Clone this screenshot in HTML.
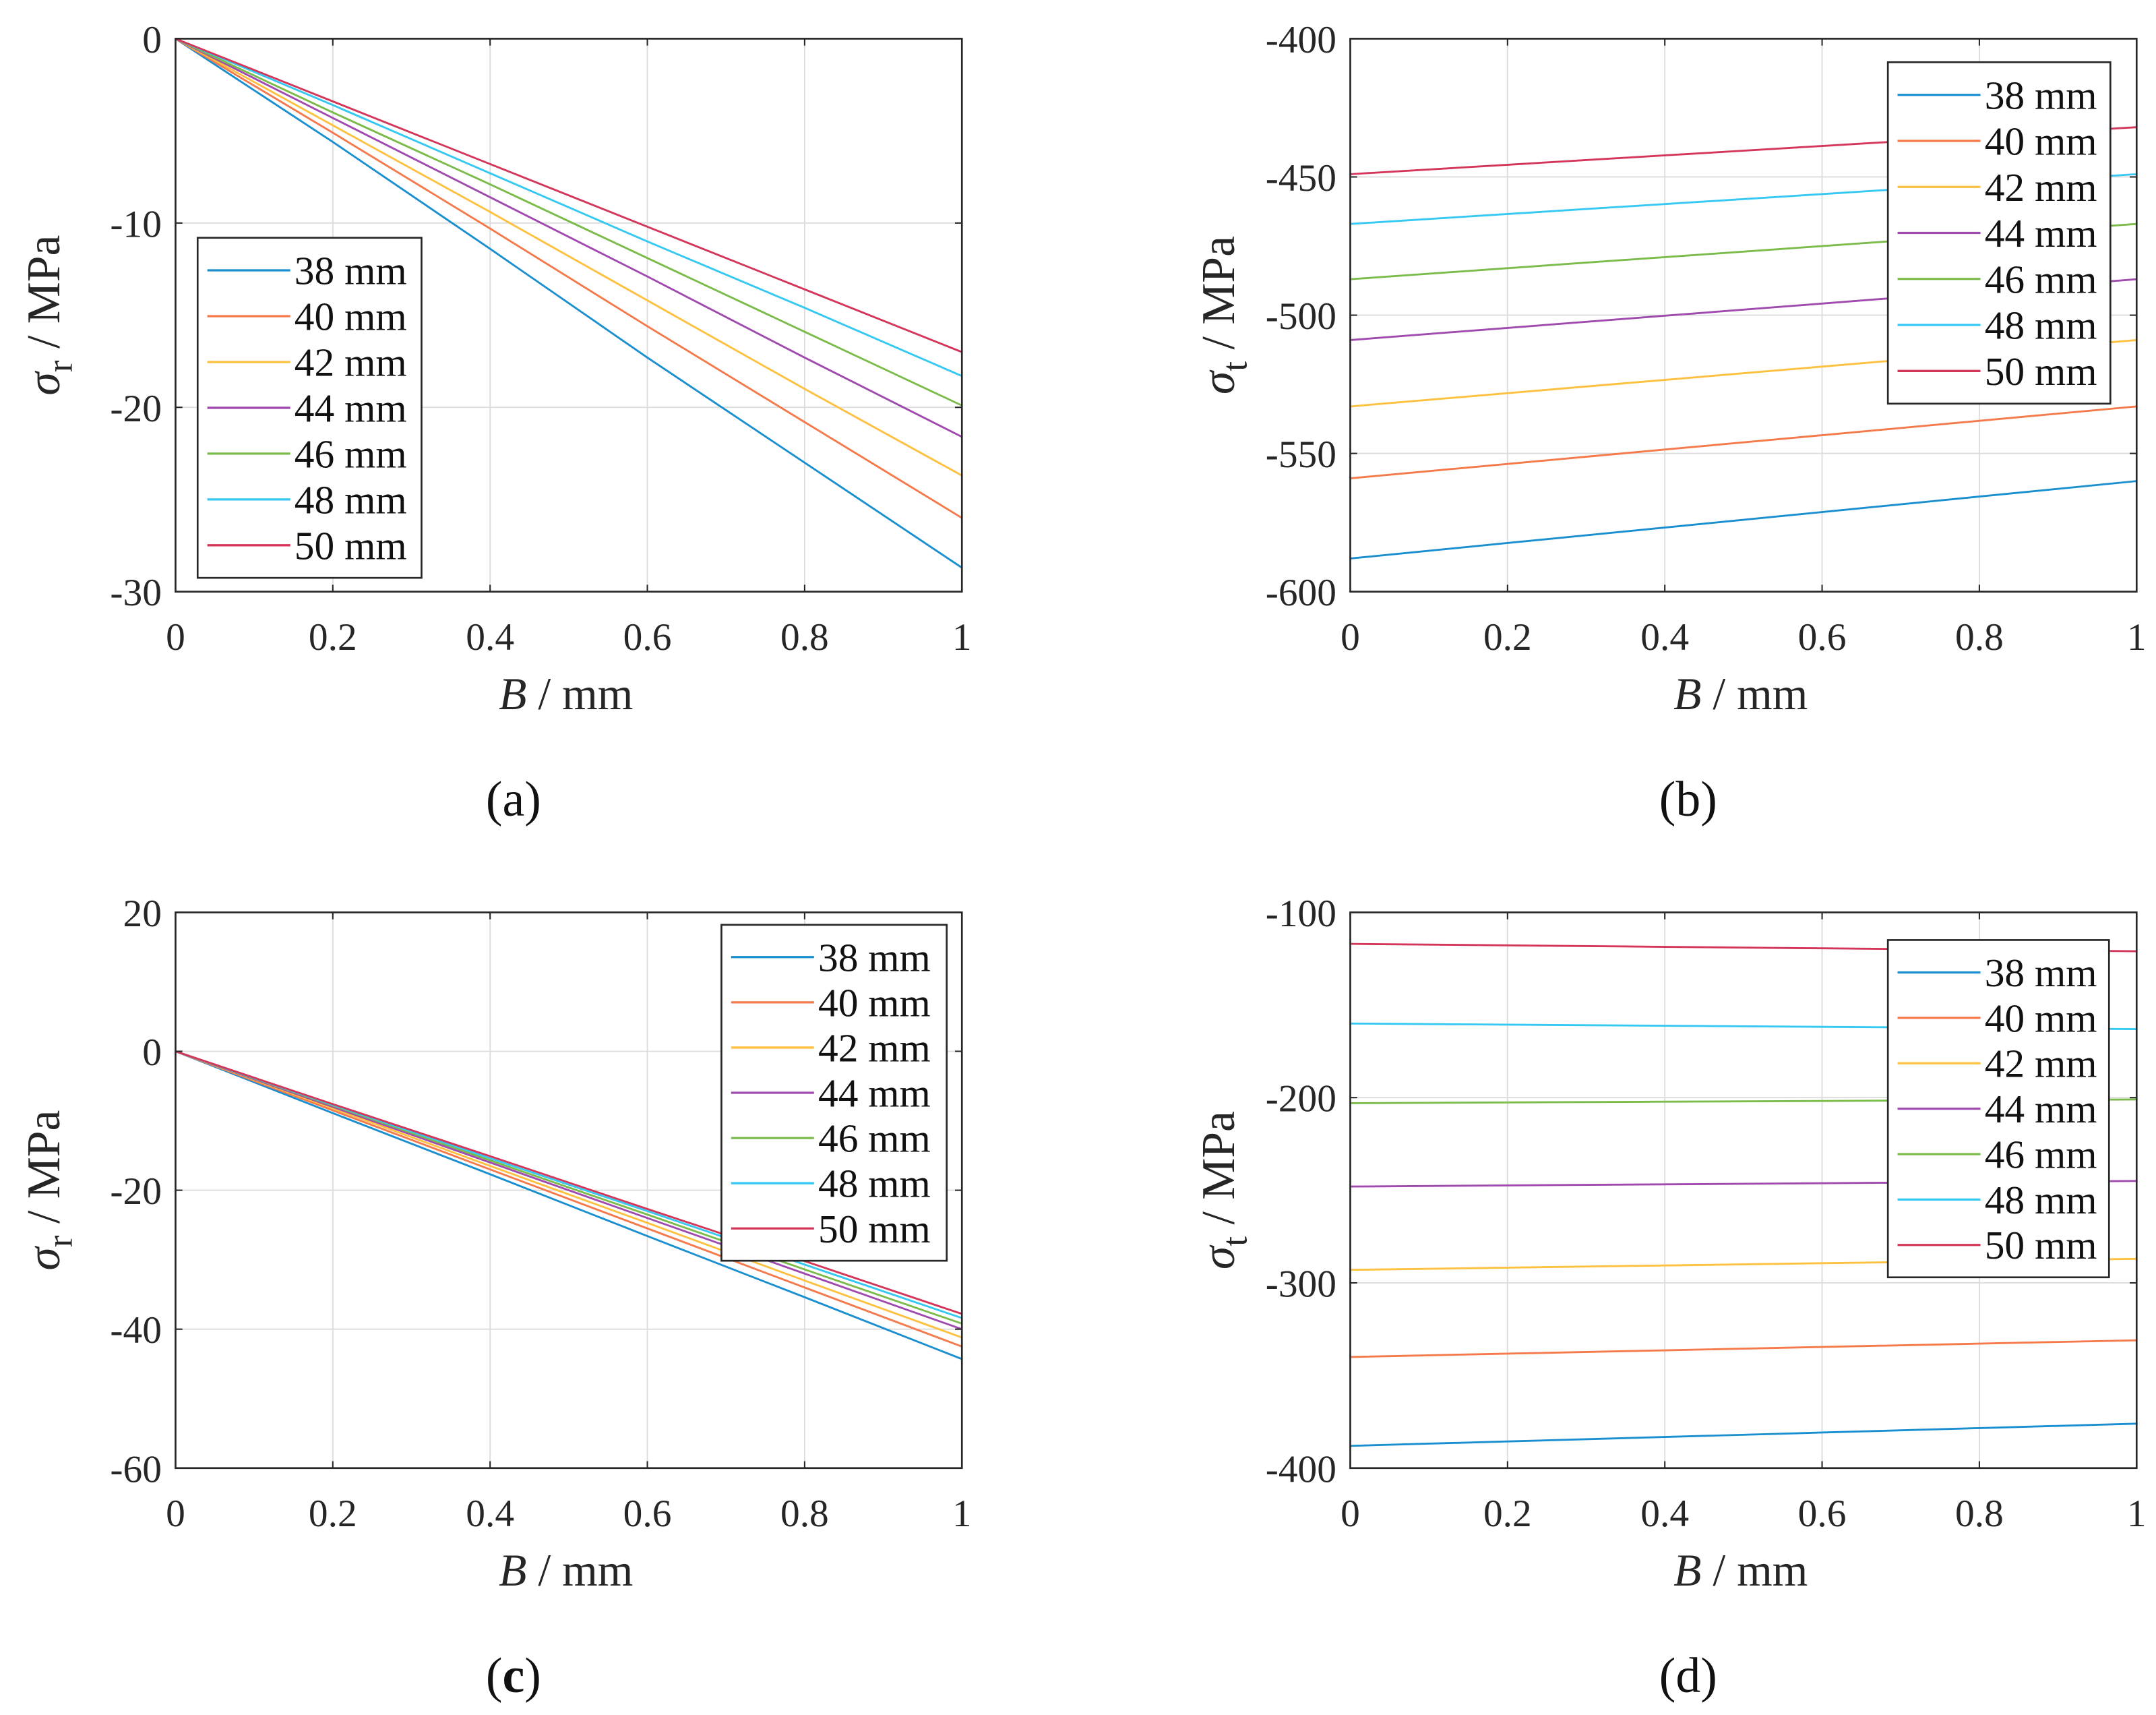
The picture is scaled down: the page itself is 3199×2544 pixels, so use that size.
<!DOCTYPE html>
<html><head><meta charset="utf-8">
<style>html,body{margin:0;padding:0;background:#fff;}svg{display:block;}</style>
</head><body>
<svg id="fig" xmlns="http://www.w3.org/2000/svg" width="3199" height="2544" viewBox="0 0 1560 1240.6" font-family="'Liberation Serif', serif"></svg>
<script>
const NS='http://www.w3.org/2000/svg';
const seriesNames=['38 mm','40 mm','42 mm','44 mm','46 mm','48 mm','50 mm'];
const colors=['#1a8fd0','#f5794a','#fdc03f','#a04aaf','#7bbb4a','#34c8f2','#d4365a'];
const xVals=[0,0.2,0.4,0.6,0.8,1];
const xTicks=[0,0.2,0.4,0.6,0.8,1];
const xTickLabels=['0','0.2','0.4','0.6','0.8','1'];
// panel a: sigma_r
const aTicks=[0,-10,-20,-30];
const aVals=[
[0,-5.6,-11.4,-17.3,-23.0,-28.7],
[0,-5.1,-10.3,-15.6,-20.8,-26.0],
[0,-4.7,-9.4,-14.2,-19.0,-23.7],
[0,-4.3,-8.6,-12.9,-17.3,-21.6],
[0,-4.0,-7.9,-11.9,-15.9,-19.9],
[0,-3.6,-7.3,-11.0,-14.6,-18.3],
[0,-3.4,-6.8,-10.2,-13.6,-17.0]];
// panel b: sigma_t
const bTicks=[-400,-450,-500,-550,-600];
const bVals=[
[-588,-582.4,-576.8,-571.2,-565.6,-560],
[-559,-553.8,-548.6,-543.4,-538.2,-533],
[-533,-528.2,-523.4,-518.6,-513.8,-509],
[-509,-504.6,-500.2,-495.8,-491.4,-487],
[-487,-483,-479,-475,-471,-467],
[-467,-463.4,-459.8,-456.2,-452.6,-449],
[-449,-445.6,-442.2,-438.8,-435.4,-432]];
// panel c: sigma_r
const cTicks=[20,0,-20,-40,-60];
const cVals=[
[0,-8.9,-17.7,-26.6,-35.4,-44.3],
[0,-8.5,-17.0,-25.5,-34.0,-42.5],
[0,-8.2,-16.5,-24.7,-33.0,-41.2],
[0,-8.0,-16.0,-24.0,-32.0,-40.0],
[0,-7.8,-15.7,-23.5,-31.4,-39.2],
[0,-7.7,-15.4,-23.0,-30.7,-38.4],
[0,-7.6,-15.1,-22.7,-30.2,-37.8]];
// panel d: sigma_t
const dTicks=[-100,-200,-300,-400];
const dVals=[
[-388,-385.6,-383.2,-380.8,-378.4,-376],
[-340,-338.2,-336.4,-334.6,-332.8,-331],
[-293,-291.8,-290.6,-289.4,-288.2,-287],
[-248,-247.4,-246.8,-246.2,-245.6,-245],
[-203,-202.6,-202.2,-201.8,-201.4,-201],
[-160,-160.6,-161.2,-161.8,-162.4,-163],
[-117,-117.8,-118.6,-119.4,-120.2,-121]];

const svg=document.getElementById('fig');
function el(tag,attrs,parent,text){const e=document.createElementNS(NS,tag);for(const k in attrs)e.setAttribute(k,attrs[k]);if(text!==undefined)e.textContent=text;(parent||svg).appendChild(e);return e;}

function panel(id,box,yMin,yMax,yTicks,vals,sub,leg,caption,boldCap){
  const g=el('g',{});
  
  
  const L=box[0],R=box[1],T=box[2],B=box[3];
  const sx=v=>L+(v-0)/(1-0)*(R-L);
  const sy=v=>T+(yMax-v)/(yMax-yMin)*(B-T);
  el('rect',{x:L,y:T,width:R-L,height:B-T,fill:'#fff'},g);
  const grid=el('g',{stroke:'#dcdcdc','stroke-width':0.9},g);
  
  
  xTicks.forEach(t=>el('line',{x1:sx(t),x2:sx(t),y1:T,y2:B},grid));
  yTicks.forEach(t=>el('line',{x1:L,x2:R,y1:sy(t),y2:sy(t)},grid));
  vals.forEach((s,i)=>{
    const pts=s.map((v,j)=>sx(xVals[j]).toFixed(2)+','+sy(v).toFixed(2)).join(' ');
    const p=el('polyline',{points:pts,fill:'none',stroke:colors[i],'stroke-width':1.4},g);
    
    
  });
  const ax=el('rect',{x:L,y:T,width:R-L,height:B-T,fill:'none',stroke:'#262626','stroke-width':1.3},g);
  
  
  const ticks=el('g',{stroke:'#262626','stroke-width':1},g);
  xTicks.forEach(t=>{el('line',{x1:sx(t),x2:sx(t),y1:B,y2:B-5},ticks);el('line',{x1:sx(t),x2:sx(t),y1:T,y2:T+5},ticks);});
  yTicks.forEach(t=>{el('line',{x1:L,x2:L+5,y1:sy(t),y2:sy(t)},ticks);el('line',{x1:R,x2:R-5,y1:sy(t),y2:sy(t)},ticks);});
  xTicks.forEach((t,i)=>{const tx=el('text',{x:sx(t),y:B+42,'font-size':28,'text-anchor':'middle',fill:'#262626'},g,xTickLabels[i]);
    });
  yTicks.forEach(t=>{const tx=el('text',{x:L-10,y:sy(t)+10,'font-size':28,'text-anchor':'end',fill:'#262626'},g,String(t));
    });
  const xl=el('text',{x:(L+R)/2-2,y:B+85,'font-size':33,'text-anchor':'middle',fill:'#262626'},g);
  
  el('tspan',{'font-style':'italic'},xl,'B');el('tspan',{},xl,' / mm');
  const cy=(T+B)/2;
  const yl=el('text',{transform:`translate(${L-84},${cy}) rotate(-90)`,'font-size':34,'text-anchor':'middle',fill:'#262626'},g);
  
  el('tspan',{'font-style':'italic'},yl,'σ');el('tspan',{dy:9,'font-size':26},yl,sub);el('tspan',{dy:-9},yl,' / MPa');
  const lg=el('g',{},g);
  
  el('rect',{x:leg[0],y:leg[1],width:leg[2],height:leg[3],fill:'#fff',stroke:'#262626','stroke-width':1.3},lg);
  const rowH=(leg[3]-14)/7;
  seriesNames.forEach((n,i)=>{
    const yy=leg[1]+7+rowH*(i+0.5);
    const e=el('g',{},lg);
    
    el('line',{x1:leg[0]+7,x2:leg[0]+67,y1:yy,y2:yy,stroke:colors[i],'stroke-width':1.6},e);
    el('text',{x:leg[0]+70,y:yy+10,'font-size':29,fill:'#111'},e,n);
  });
  const cp=el('text',{x:(L+R)/2-40,y:B+162,'font-size':36,'text-anchor':'middle',fill:'#111'},g);
  
  el('tspan',{},cp,'(');el('tspan',{'font-weight':boldCap?'bold':'normal'},cp,caption);el('tspan',{},cp,')');
}
panel('a',[127,696,28,428],-30,0,aTicks,aVals,'r',[143,172,162,246],'a',false);
panel('b',[977,1546,28,428],-600,-400,bTicks,bVals,'t',[1366,45,161,247],'b',false);
panel('c',[127,696,660,1062],-60,20,cTicks,cVals,'r',[522,669,163,243],'c',true);
panel('d',[977,1546,660,1062],-400,-100,dTicks,dVals,'t',[1366,680,160,244],'d',false);
</script>
</body></html>
